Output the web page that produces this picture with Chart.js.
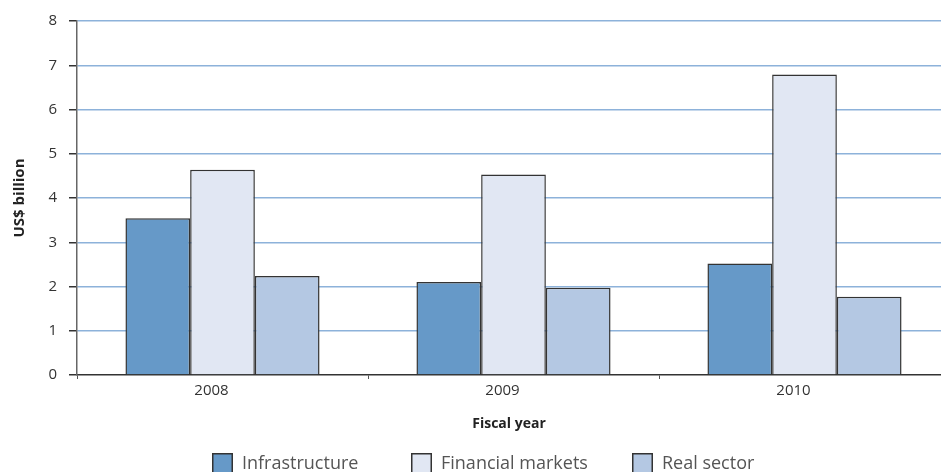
<!DOCTYPE html>
<html>
<head>
<meta charset="utf-8">
<script src="https://cdn.jsdelivr.net/npm/chart.js@4"></script>
<style>
  html, body { margin: 0; padding: 0; background: #fff; }
  #chart { display: block; }
</style>
</head>
<body>
<canvas id="chart" width="941" height="472"></canvas>
<script>
// fiscal years and lending per sector, US$ billion
const years = ['2008', '2009', '2010'];
const infrastructure = [3.54, 2.10, 2.52];
const financialMarkets = [4.64, 4.53, 6.79];
const realSector = [2.24, 1.97, 1.77];
const yTicks = [0, 1, 2, 3, 4, 5, 6, 7, 8];

const FONT = "'Open Sans', 'Noto Sans', sans-serif";

// plot runs a little past the right edge of the canvas
const plotOverhang = 9;

const widenPlot = {
    id: 'widenPlot',
    afterLayout(chart) {
        const x = chart.scales.x;
        x.right += plotOverhang;
        x.width += plotOverhang;
        x.configure();
        // keep the axis box (and its title) inside the canvas
        x.right -= plotOverhang;
        x.width -= plotOverhang;
        chart.chartArea.right += plotOverhang;
        chart.chartArea.width += plotOverhang;
    }
};

// legend drawn along the bottom edge, boxes + text in fixed columns
const legendColumns = [212, 411, 632];
const bottomLegend = {
    id: 'bottomLegend',
    afterDraw(chart) {
        const ctx = chart.ctx;
        const box = 21;
        const top = chart.height - 19;
        ctx.save();
        ctx.font = "18px " + FONT;
        ctx.textBaseline = 'alphabetic';
        ctx.textAlign = 'left';
        chart.data.datasets.forEach((ds, i) => {
            const x = legendColumns[i];
            ctx.fillStyle = ds.backgroundColor;
            ctx.fillRect(x, top, box, box);
            ctx.lineWidth = 1.5;
            ctx.strokeStyle = '#333';
            ctx.strokeRect(x + 0.75, top + 0.75, box - 1.5, box - 1.5);
            ctx.fillStyle = '#555';
            ctx.fillText(ds.label, x + box + 9, chart.height - 3);
        });
        ctx.restore();
    }
};

const ctx = document.getElementById('chart').getContext('2d');
const chart = new Chart(ctx, {
    type: 'bar',
    data: {
        labels: years,
        datasets: [
            { label: 'Infrastructure', data: infrastructure, backgroundColor: '#6699c8' },
            { label: 'Financial markets', data: financialMarkets, backgroundColor: '#e1e7f3' },
            { label: 'Real sector', data: realSector, backgroundColor: '#b4c8e3' }
        ]
    },
    options: {
        responsive: false,
        devicePixelRatio: 1,
        animation: false,
        layout: { padding: { left: 0, right: 0, top: 20, bottom: 40 } },
        datasets: {
            bar: {
                categoryPercentage: 0.667,
                barPercentage: 1,
                borderColor: '#333',
                borderWidth: 1.5
            }
        },
        scales: {
            x: {
                grid: {
                    drawOnChartArea: false,
                    offset: true,
                    tickLength: 4,
                    tickColor: '#555'
                },
                border: { color: '#333', width: 1.5 },
                ticks: {
                    color: '#333',
                    padding: 3,
                    labelOffset: -11,
                    font: { family: FONT, size: 15 }
                },
                title: {
                    display: true,
                    text: 'Fiscal year',
                    color: '#222',
                    padding: 0,
                    font: { family: FONT, size: 14, weight: 'bold' }
                },
                afterFit(scale) { scale.height = 57; }
            },
            y: {
                min: 0,
                max: 8,
                grid: {
                    color: ctx => ctx.tick && ctx.tick.value === 0 ? 'rgba(0,0,0,0)' : '#8db2da',
                    lineWidth: 1.5,
                    tickLength: 8,
                    tickColor: '#333'
                },
                border: { color: '#666', width: 1.5 },
                afterBuildTicks(scale) {
                    scale.ticks = yTicks.map(v => ({ value: v }));
                },
                ticks: {
                    color: '#333',
                    padding: 12,
                    font: { family: FONT, size: 15 }
                },
                title: {
                    display: true,
                    text: 'US$ billion',
                    color: '#222',
                    padding: { top: 11, bottom: 0 },
                    font: { family: FONT, size: 15, weight: 'bold' }
                },
                afterFit(scale) { scale.width = 77; }
            }
        },
        plugins: {
            legend: { display: false },
            tooltip: { enabled: false }
        }
    },
    plugins: [widenPlot, bottomLegend]
});
</script>
</body>
</html>
